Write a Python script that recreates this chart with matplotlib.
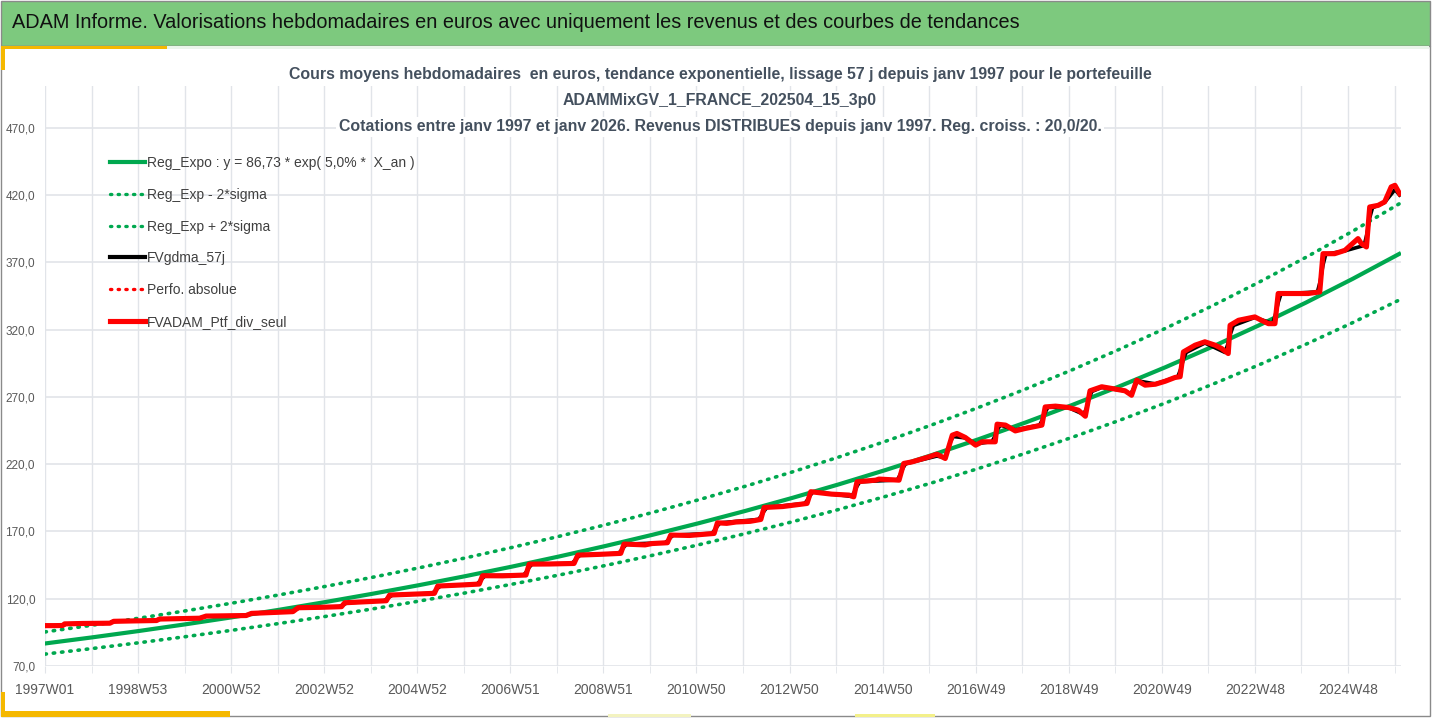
import matplotlib
matplotlib.use("Agg")
import matplotlib.pyplot as plt
from matplotlib.lines import Line2D
from matplotlib.patches import Rectangle

# ---- data ----
# time axis in fractional years, 1997.0 = 1997W01
TREND_YEARS = [1997, 1998, 1999, 2000, 2001, 2002, 2003, 2004, 2005, 2006,
               2007, 2008, 2009, 2010, 2011, 2012, 2013, 2014, 2015, 2016,
               2017, 2018, 2019, 2020, 2021, 2022, 2023, 2024, 2025, 2026]
REG_EXPO = [86.73, 91.23, 95.96, 100.94, 106.18, 111.69, 117.49, 123.59, 130.00, 136.75,
            143.85, 151.31, 159.16, 167.42, 176.11, 185.25, 194.87, 204.98, 215.62, 226.81,
            238.58, 250.96, 263.98, 277.68, 292.09, 307.25, 323.20, 339.97, 357.61, 376.17]
REG_MINUS = [78.84, 82.93, 87.23, 91.75, 96.52, 101.53, 106.80, 112.34, 118.17, 124.31,
             130.76, 137.54, 144.68, 152.19, 160.08, 168.39, 177.14, 186.33, 196.00, 206.17,
             216.87, 228.12, 239.96, 252.41, 265.51, 279.29, 293.79, 309.03, 325.07, 341.94]
REG_PLUS = [95.32, 100.26, 105.46, 110.93, 116.69, 122.75, 129.12, 135.83, 142.87, 150.29,
            158.09, 166.29, 174.92, 183.99, 193.54, 203.59, 214.16, 225.27, 236.97, 249.26,
            262.20, 275.81, 290.11, 305.17, 321.01, 337.67, 355.20, 373.63, 393.01, 413.41]

PTF_YEARS = [1997.00, 1997.20, 1997.38, 1997.42, 1997.80, 1998.39, 1998.47, 1998.90,
             1999.39, 1999.45, 1999.90, 2000.31, 2000.45, 2000.90, 2001.31, 2001.42,
             2001.90, 2002.31, 2002.42, 2002.90, 2003.35, 2003.42, 2003.90, 2004.31,
             2004.38, 2004.90, 2005.34, 2005.41, 2005.98, 2006.30, 2006.37, 2006.80,
             2007.30, 2007.37, 2007.80, 2008.33, 2008.41, 2008.90, 2009.33, 2009.40,
             2009.85, 2010.00, 2010.33, 2010.40, 2010.80, 2011.33, 2011.40, 2011.60,
             2011.80, 2012.10, 2012.33, 2012.40, 2012.80, 2013.32, 2013.40, 2013.85,
             2014.22, 2014.32, 2014.39, 2014.79, 2014.86, 2015.29, 2015.39, 2015.57,
             2015.93, 2016.10, 2016.28, 2016.43, 2016.53, 2016.71, 2016.93, 2017.07,
             2017.35, 2017.39, 2017.57, 2017.78, 2017.99, 2018.35, 2018.42, 2018.64,
             2018.92, 2019.13, 2019.28, 2019.38, 2019.63, 2019.85, 2020.13, 2020.27,
             2020.38, 2020.56, 2020.78, 2020.99, 2021.20, 2021.31, 2021.38, 2021.63,
             2021.84, 2022.06, 2022.20, 2022.34, 2022.38, 2022.56, 2022.91, 2023.05,
             2023.20, 2023.34, 2023.41, 2023.77, 2024.05, 2024.30, 2024.37, 2024.62,
             2024.84, 2025.12, 2025.19, 2025.30, 2025.37, 2025.55, 2025.69, 2025.83,
             2025.91, 2026.01]
PTF_VALUES = [100.0, 100.0, 100.1, 101.3, 101.6, 101.8, 103.2, 103.5,
              103.8, 104.9, 105.2, 105.5, 107.1, 107.3, 107.5, 109.1,
              109.8, 110.4, 113.3, 113.6, 114.1, 117.0, 117.8, 118.5,
              122.7, 123.4, 124.0, 129.4, 130.3, 130.9, 137.1, 137.0,
              137.6, 145.7, 145.8, 146.2, 152.4, 153.0, 153.7, 160.6,
              160.0, 161.0, 161.6, 167.3, 167.0, 168.5, 176.4, 176.0,
              177.0, 177.5, 178.9, 187.8, 188.5, 190.8, 199.5, 197.7,
              197.0, 195.7, 206.9, 208.1, 208.9, 208.1, 220.5, 221.7,
              225.4, 227.4, 224.2, 241.5, 242.8, 239.8, 234.1, 236.6,
              236.6, 249.7, 249.0, 244.7, 246.5, 249.0, 262.5, 263.1,
              262.1, 260.1, 255.6, 274.5, 277.5, 276.2, 274.5, 271.2,
              282.4, 278.7, 279.4, 281.6, 284.4, 285.0, 303.4, 308.4,
              310.9, 308.4, 305.9, 302.2, 323.2, 326.9, 329.4, 326.9,
              324.4, 324.4, 346.8, 346.8, 346.8, 348.0, 376.4, 376.4,
              378.9, 387.6, 383.9, 381.4, 411.1, 412.3, 414.9, 426.0,
              427.2, 421.0]

GDMA_YEARS = [1997.00, 1997.31, 1997.37, 1997.43, 1997.49, 1998.34, 1998.40, 1998.46, 1998.52,
              1999.33, 1999.39, 1999.45, 1999.51, 2000.29, 2000.35, 2000.41, 2000.47,
              2001.28, 2001.34, 2001.40, 2001.46, 2002.28, 2002.34, 2002.40, 2002.46,
              2003.30, 2003.36, 2003.42, 2003.48, 2004.26, 2004.32, 2004.38, 2004.44,
              2005.29, 2005.35, 2005.41, 2005.47, 2006.25, 2006.31, 2006.37, 2006.43,
              2007.25, 2007.31, 2007.37, 2007.43, 2008.28, 2008.34, 2008.40, 2008.46,
              2009.28, 2009.34, 2009.40, 2009.46, 2010.28, 2010.34, 2010.40, 2010.46,
              2011.28, 2011.34, 2011.40, 2011.46, 2012.28, 2012.34, 2012.40, 2012.46,
              2013.27, 2013.33, 2013.39, 2013.45, 2013.85, 2014.27, 2014.33, 2014.39,
              2014.45, 2015.25, 2015.31, 2015.37, 2015.43, 2016.10, 2016.27, 2016.33,
              2016.39, 2016.45, 2016.71, 2016.93, 2017.28, 2017.34, 2017.40, 2017.46,
              2017.78, 2018.30, 2018.36, 2018.42, 2018.48, 2018.92, 2019.24, 2019.30,
              2019.36, 2019.42, 2019.63, 2020.13, 2020.24, 2020.30, 2020.36, 2020.42,
              2020.78, 2021.26, 2021.32, 2021.38, 2021.44, 2021.84, 2022.27, 2022.33,
              2022.39, 2022.45, 2022.91, 2023.29, 2023.35, 2023.41, 2023.47, 2024.25,
              2024.31, 2024.37, 2024.43, 2024.84, 2025.25, 2025.31, 2025.37, 2025.43,
              2025.69, 2025.91, 2026.01]
GDMA_VALUES = [100.0, 100.1, 100.5, 100.9, 101.3, 101.8, 102.2, 102.8, 103.2,
               103.8, 104.1, 104.6, 104.9, 105.5, 106.0, 106.6, 107.1,
               107.5, 108.0, 108.6, 109.1, 110.4, 111.3, 112.4, 113.3,
               114.1, 115.0, 116.1, 117.0, 118.5, 119.8, 121.4, 122.7,
               124.0, 125.6, 127.8, 129.4, 130.9, 132.8, 135.2, 137.1,
               137.6, 140.0, 143.3, 145.7, 146.2, 148.1, 150.5, 152.4,
               153.7, 155.8, 158.5, 160.6, 161.6, 163.3, 165.6, 167.3,
               168.5, 170.9, 174.0, 176.4, 178.9, 181.6, 185.1, 187.8,
               190.8, 193.4, 196.9, 199.5, 197.8, 196.0, 199.1, 203.6,
               206.9, 208.2, 211.8, 216.8, 220.3, 226.0, 224.8, 229.9,
               236.6, 240.5, 239.5, 235.0, 236.8, 240.5, 245.8, 249.0,
               245.5, 249.0, 253.0, 258.5, 262.3, 262.0, 257.0, 261.0,
               269.0, 274.0, 277.0, 274.5, 272.0, 275.0, 279.5, 281.8,
               279.6, 285.0, 290.5, 298.0, 303.0, 310.0, 303.0, 309.0,
               317.0, 323.0, 329.0, 324.5, 331.0, 340.0, 346.5, 348.0,
               356.0, 368.0, 376.0, 378.5, 382.5, 391.0, 403.0, 410.5,
               414.5, 424.0, 420.0]

WEEK_LABELS = ["1997W01", "1998W53", "2000W52", "2002W52", "2004W52", "2006W51",
               "2008W51", "2010W50", "2012W50", "2014W50", "2016W49", "2018W49",
               "2020W49", "2022W48", "2024W48"]
Y_TICKS = [70, 120, 170, 220, 270, 320, 370, 420, 470]

LEGEND_LABELS = ["Reg_Expo : y = 86,73 * exp( 5,0% *  X_an )", "Reg_Exp - 2*sigma",
                 "Reg_Exp + 2*sigma", "FVgdma_57j", "Perfo. absolue",
                 "FVADAM_Ptf_div_seul"]

HEADER = ("ADAM Informe. Valorisations hebdomadaires en euros avec uniquement "
          "les revenus et des courbes de tendances")
TITLE_LINES = [
    "Cours moyens hebdomadaires  en euros, tendance exponentielle, lissage 57 j "
    "depuis janv 1997 pour le portefeuille",
    "ADAMMixGV_1_FRANCE_202504_15_3p0",
    "Cotations entre janv 1997 et janv 2026. Revenus DISTRIBUES depuis janv 1997. "
    "Reg. croiss. : 20,0/20.",
]

# ---- style ----
FONT = ["Liberation Sans", "DejaVu Sans"]
plt.rcParams["font.family"] = FONT
GREEN = "#00A84F"
RED = "#FF0000"
GRID = "#E1E4E9"
TEXT = "#404040"
TITLE_C = "#44505E"
DOTS = (0, (0.4, 1.9))
WEEKS_PER_YEAR = 52.1775

W, H = 1432, 718
fig = plt.figure(figsize=(W / 100, H / 100), dpi=100, facecolor="white")

# background / frame layer in pixel coordinates
bg = fig.add_axes([0, 0, 1, 1], zorder=-1)
bg.set_xlim(0, W)
bg.set_ylim(H, 0)
bg.axis("off")
bg.add_patch(Rectangle((1, 1), W - 3, 45, facecolor="#7DC97E", edgecolor="#8A8A8A", lw=1))
bg.add_patch(Rectangle((1, 46), W - 3, H - 48, facecolor="white", edgecolor="#8A8A8A", lw=1))
bg.add_patch(Rectangle((2, 46), W - 5, 3, facecolor="#EAF5EA", edgecolor="none"))
bg.add_patch(Rectangle((1, 46), 166, 3, facecolor="#F5B800", edgecolor="none"))
bg.add_patch(Rectangle((1, 46), 4, 24, facecolor="#F5B800", edgecolor="none"))
bg.add_patch(Rectangle((1, 711), 229, 6, facecolor="#F5B800", edgecolor="none"))
bg.add_patch(Rectangle((1, 692), 4, 25, facecolor="#F5B800", edgecolor="none"))
bg.add_patch(Rectangle((855, 714), 80, 3, facecolor="#F3F08A", edgecolor="none"))
bg.add_patch(Rectangle((608, 714), 83, 3, facecolor="#F3F3C0", edgecolor="none"))
bg.text(12, 23, HEADER, fontsize=14.3, color="#111111", ha="left", va="center")

# ---- chart ----
ax = fig.add_axes([45 / W, (H - 666) / H, 1356 / W, 580 / H])
ax.set_facecolor("none")
x0, x1 = 1997.0, 2026.04
ax.set_xlim(x0, x1)
ax.set_ylim(70, 501)

ax.plot(TREND_YEARS, REG_MINUS, color=GREEN, lw=2.6, linestyle=DOTS,
        dash_capstyle="round", zorder=2)
ax.plot(TREND_YEARS, REG_PLUS, color=GREEN, lw=2.6, linestyle=DOTS,
        dash_capstyle="round", zorder=2)
ax.plot(TREND_YEARS, REG_EXPO, color=GREEN, lw=3.0, zorder=3)
ax.plot(GDMA_YEARS, GDMA_VALUES, color="black", lw=2.6, zorder=4)
ax.plot(PTF_YEARS, PTF_VALUES, color=RED, lw=3.7, zorder=5, solid_joinstyle="round")

# ticks and grid
major = [x0 + 104 * k / WEEKS_PER_YEAR for k in range(len(WEEK_LABELS))]
minor = [x0 + 52 * k / WEEKS_PER_YEAR for k in range(30)]
ax.set_xticks(major)
ax.set_xticklabels(WEEK_LABELS)
ax.set_xticks(minor, minor=True)
ax.set_yticks(Y_TICKS)
ax.set_yticklabels([f"{v:.1f}".replace(".", ",") for v in Y_TICKS])
ax.grid(True, which="minor", axis="x", color=GRID, lw=1)
ax.grid(True, which="major", axis="x", color=GRID, lw=1)
ax.grid(True, which="major", axis="y", color=GRID, lw=1.2)
ax.set_axisbelow(True)
ax.tick_params(axis="x", which="both", direction="out", length=5, color=GRID,
               labelsize=10, labelcolor="#595959", pad=7)
ax.tick_params(axis="y", length=0, labelsize=8.5, labelcolor="#595959", pad=7)
for s in ax.spines.values():
    s.set_visible(False)

# chart title, each line on its own white box (hides the grid behind it)
for i, line in enumerate(TITLE_LINES):
    fig.text(720 / W, 1 - (75 + i * 26) / H, line, fontsize=11.4, fontweight="bold",
             color=TITLE_C, ha="center", va="center", zorder=10,
             bbox=dict(boxstyle="square,pad=0.15", facecolor="white", edgecolor="none"))

# legend
handles = [
    Line2D([], [], color=GREEN, lw=3.0),
    Line2D([], [], color=GREEN, lw=2.4, linestyle=DOTS, dash_capstyle="round"),
    Line2D([], [], color=GREEN, lw=2.4, linestyle=DOTS, dash_capstyle="round"),
    Line2D([], [], color="black", lw=3.0),
    Line2D([], [], color=RED, lw=2.4, linestyle=DOTS, dash_capstyle="round"),
    Line2D([], [], color=RED, lw=3.7),
]
leg = fig.legend(handles, LEGEND_LABELS, loc="upper left",
                 bbox_to_anchor=(110 / W, (H - 156) / H), frameon=False,
                 fontsize=10, labelcolor=TEXT, handlelength=2.5, handletextpad=0.15,
                 labelspacing=1.28, borderpad=0, borderaxespad=0)
leg.set_zorder(10)

fig.savefig("out.png", dpi=100, facecolor="white")
